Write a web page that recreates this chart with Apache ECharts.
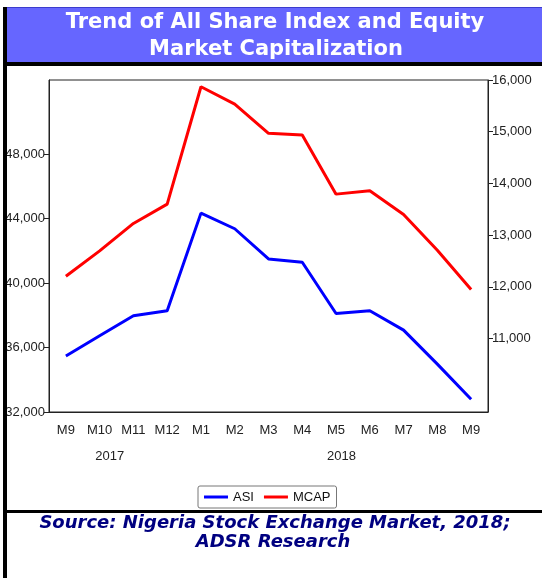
<!DOCTYPE html>
<html>
<head>
<meta charset="utf-8">
<style>
html, body { margin: 0; padding: 0; background: #fff; }
#chart { width: 542px; height: 578px; }
</style>
<script src="https://cdn.jsdelivr.net/npm/echarts@6/dist/echarts.min.js"></script>
</head>
<body>
<div id="chart"></div>
<script>
// monthly values, Sep 2017 - Sep 2018
var months = ['M9', 'M10', 'M11', 'M12', 'M1', 'M2', 'M3', 'M4', 'M5', 'M6', 'M7', 'M8', 'M9'];
var asi = [35480, 36730, 37970, 38280, 44340, 43370, 41500, 41290, 38110, 38280, 37080, 34970, 32790];
var mcap = [12205, 12695, 13226, 13600, 15870, 15535, 14968, 14935, 13793, 13857, 13400, 12709, 11948];

var asiTicks = [32000, 36000, 40000, 44000, 48000];
var mcapTicks = [11000, 12000, 13000, 14000, 15000, 16000];
var years = ['2017', '2018'];
var yearPos = [1.8, 8.66];

var axisFont = '"Liberation Sans", Arial, sans-serif';
var fmt = function (v) { return v.toLocaleString('en-US'); };

var chart = echarts.init(document.getElementById('chart'));

option = {
    backgroundColor: '#fff',
    animation: false,
    grid: {
        left: 49,
        right: 54,
        top: 80,
        bottom: 166,
        outerBoundsMode: 'none',
        containLabel: false,
        show: true,
        borderColor: '#222',
        borderWidth: 1,
        backgroundColor: '#fff'
    },
    legend: {
        data: ['ASI', 'MCAP'],
        left: 198,
        top: 486,
        icon: 'rect',
        itemWidth: 24,
        itemHeight: 3,
        itemGap: 10,
        padding: [4, 6, 4, 6],
        borderColor: '#777',
        borderWidth: 1,
        borderRadius: 2,
        backgroundColor: '#fff',
        textStyle: { fontFamily: axisFont, fontSize: 13, color: '#111', lineHeight: 14 }
    },
    xAxis: [
        {
            type: 'category',
            data: months,
            boundaryGap: true,
            axisLine: { lineStyle: { color: '#222' } },
            axisTick: { length: 4, lineStyle: { color: '#222' } },
            axisLabel: { interval: 0, margin: 12, color: '#222', fontFamily: axisFont, fontSize: 13 }
        },
        {
            type: 'value',
            min: 0,
            max: 13,
            position: 'bottom',
            axisLine: { show: false },
            axisTick: { show: false },
            splitLine: { show: false },
            axisLabel: {
                customValues: yearPos,
                margin: 38,
                color: '#222',
                fontFamily: axisFont,
                fontSize: 13,
                formatter: function (v) { return years[yearPos.indexOf(v)]; }
            }
        }
    ],
    yAxis: [
        {
            type: 'value',
            position: 'left',
            min: 32000,
            max: 52600,
            splitLine: { show: false },
            axisLine: { show: true, lineStyle: { color: '#222' } },
            axisTick: { show: true, length: 5, customValues: asiTicks, lineStyle: { color: '#222' } },
            axisLabel: { customValues: asiTicks, margin: 4, color: '#222', fontFamily: axisFont, fontSize: 13, formatter: fmt }
        },
        {
            type: 'value',
            position: 'right',
            min: 9580,
            max: 16000,
            splitLine: { show: false },
            axisLine: { show: true, lineStyle: { color: '#222' } },
            axisTick: { show: true, length: 5, customValues: mcapTicks, lineStyle: { color: '#222' } },
            axisLabel: { customValues: mcapTicks, margin: 4, color: '#222', fontFamily: axisFont, fontSize: 13, formatter: fmt }
        }
    ],
    series: [
        {
            name: 'ASI',
            type: 'line',
            yAxisIndex: 0,
            data: asi,
            symbol: 'none',
            lineStyle: { color: '#0000ff', width: 3 },
            itemStyle: { color: '#0000ff' }
        },
        {
            name: 'MCAP',
            type: 'line',
            yAxisIndex: 1,
            data: mcap,
            symbol: 'none',
            lineStyle: { color: '#ff0000', width: 3 },
            itemStyle: { color: '#ff0000' }
        }
    ],
    graphic: [
        { type: 'rect', shape: { x: 7, y: 7, width: 535, height: 55 }, style: { fill: '#6666ff' }, z: 0 },
        { type: 'rect', shape: { x: 7, y: 7, width: 535, height: 1 }, style: { fill: '#3c3ccc' }, z: 0 },
        { type: 'rect', shape: { x: 3, y: 62, width: 539, height: 4 }, style: { fill: '#000' }, z: 1 },
        { type: 'rect', shape: { x: 3, y: 7, width: 4, height: 571 }, style: { fill: '#000' }, z: 1 },
        { type: 'rect', shape: { x: 3, y: 510, width: 539, height: 3 }, style: { fill: '#000' }, z: 1 },
        {
            type: 'text', x: 275, y: 22.5, z: 2,
            style: { text: 'Trend of All Share Index and Equity', align: 'center', verticalAlign: 'middle',
                     font: 'bold 21px "DejaVu Sans", Verdana, sans-serif', fill: '#fff' }
        },
        {
            type: 'text', x: 276, y: 50, z: 2,
            style: { text: 'Market Capitalization', align: 'center', verticalAlign: 'middle',
                     font: 'bold 21px "DejaVu Sans", Verdana, sans-serif', fill: '#fff' }
        },
        {
            type: 'text', x: 275, y: 523, z: 2,
            style: { text: 'Source: Nigeria Stock Exchange Market, 2018;', align: 'center', verticalAlign: 'middle',
                     font: 'italic bold 18px "DejaVu Sans", Verdana, sans-serif', fill: '#000080' }
        },
        {
            type: 'text', x: 273, y: 542, z: 2,
            style: { text: 'ADSR Research', align: 'center', verticalAlign: 'middle',
                     font: 'italic bold 18px "DejaVu Sans", Verdana, sans-serif', fill: '#000080' }
        }
    ]
};

chart.setOption(option, true);
</script>
</body>
</html>
